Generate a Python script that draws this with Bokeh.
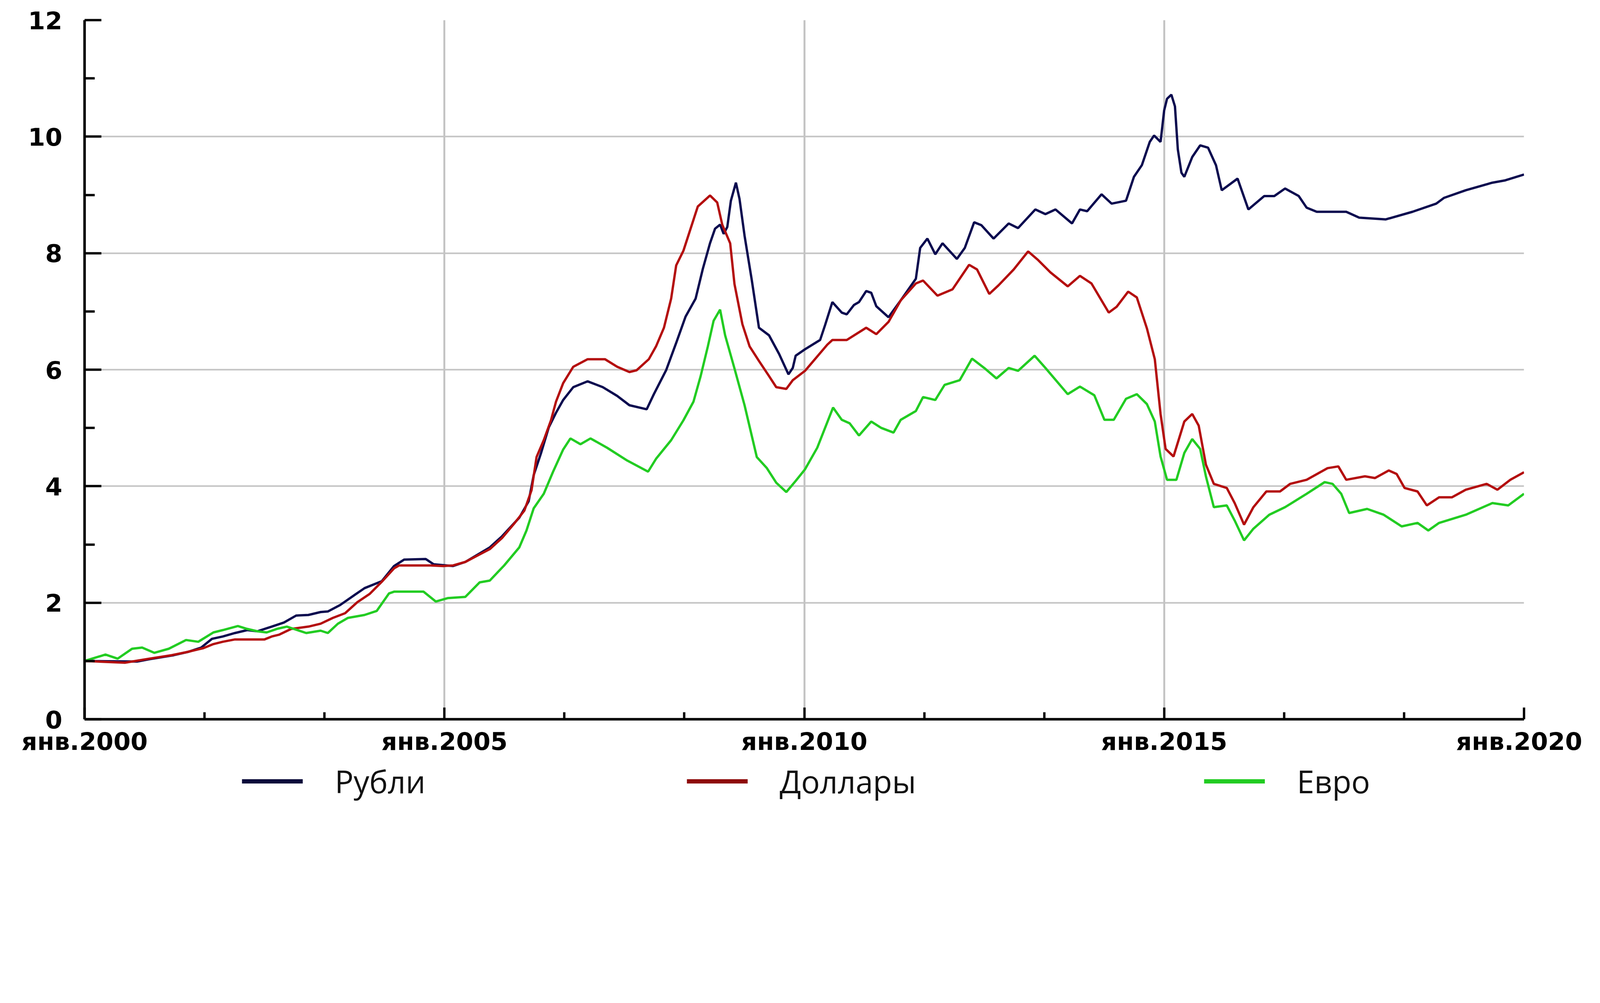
from bokeh.plotting import figure
from bokeh.models import Range1d, FixedTicker, Legend, LegendItem
from bokeh.layouts import column
from bokeh.embed import file_html
from bokeh.resources import INLINE

# ---------------- data (decimal year, index value) ----------------
rub_t = [2000.0, 2000.73, 2000.90, 2001.24, 2001.45, 2001.62, 2001.77, 2001.92, 2002.09, 2002.26,
         2002.40, 2002.60, 2002.77, 2002.94, 2003.11, 2003.28, 2003.38, 2003.55, 2003.76, 2003.89,
         2004.13, 2004.30, 2004.44, 2004.74, 2004.85, 2005.12, 2005.29, 2005.63, 2005.80, 2006.04,
         2006.17, 2006.24, 2006.34, 2006.45, 2006.55, 2006.65, 2006.79, 2006.99, 2007.20, 2007.40,
         2007.57, 2007.81, 2007.91, 2008.08, 2008.22, 2008.35, 2008.49, 2008.59, 2008.69, 2008.76,
         2008.83, 2008.88, 2008.93, 2008.98, 2009.05, 2009.10, 2009.17, 2009.27, 2009.37, 2009.51,
         2009.65, 2009.78, 2009.84, 2009.88, 2010.01, 2010.22, 2010.29, 2010.39, 2010.52, 2010.59,
         2010.69, 2010.76, 2010.86, 2010.93, 2011.00, 2011.17, 2011.34, 2011.55, 2011.61, 2011.71,
         2011.82, 2011.92, 2012.12, 2012.23, 2012.36, 2012.46, 2012.63, 2012.84, 2012.97, 2013.21,
         2013.35, 2013.49, 2013.72, 2013.83, 2013.93, 2014.13, 2014.27, 2014.47, 2014.58, 2014.69,
         2014.80, 2014.86, 2014.95, 2015.00, 2015.04, 2015.10, 2015.15, 2015.19, 2015.24, 2015.28,
         2015.39, 2015.50, 2015.61, 2015.72, 2015.80, 2016.02, 2016.17, 2016.39, 2016.53, 2016.68,
         2016.87, 2016.98, 2017.12, 2017.53, 2017.71, 2018.08, 2018.45, 2018.78, 2018.89, 2019.19,
         2019.56, 2019.74, 2020.0]
rub_v = [1.00, 0.99, 1.03, 1.10, 1.16, 1.23, 1.38, 1.42, 1.48, 1.53,
         1.51, 1.59, 1.66, 1.78, 1.79, 1.84, 1.85, 1.96, 2.14, 2.25,
         2.37, 2.63, 2.74, 2.75, 2.66, 2.63, 2.70, 2.95, 3.14, 3.46,
         3.74, 4.19, 4.56, 5.01, 5.26, 5.48, 5.70, 5.80, 5.70, 5.55,
         5.39, 5.32, 5.58, 5.99, 6.46, 6.91, 7.22, 7.73, 8.17, 8.42,
         8.49, 8.33, 8.45, 8.90, 9.21, 8.93, 8.30, 7.54, 6.72, 6.59,
         6.27, 5.92, 6.03, 6.24, 6.35, 6.51, 6.77, 7.16, 6.98, 6.95,
         7.11, 7.16, 7.35, 7.32, 7.09, 6.90, 7.19, 7.56, 8.09, 8.25,
         7.98, 8.17, 7.90, 8.09, 8.53, 8.48, 8.25, 8.51, 8.43, 8.75,
         8.67, 8.75, 8.51, 8.75, 8.72, 9.01, 8.85, 8.90, 9.31, 9.51,
         9.91, 10.02, 9.91, 10.45, 10.65, 10.72, 10.52, 9.78, 9.38, 9.31,
         9.65, 9.85, 9.81, 9.51, 9.08, 9.28, 8.75, 8.98, 8.98, 9.11,
         8.98, 8.78, 8.71, 8.71, 8.61, 8.58, 8.71, 8.85, 8.95, 9.08,
         9.21, 9.25, 9.35]

usd_t = [2000.0, 2000.56, 2000.90, 2001.21, 2001.41, 2001.65, 2001.79, 2001.92, 2002.09, 2002.50,
         2002.60, 2002.70, 2002.87, 2003.11, 2003.28, 2003.45, 2003.62, 2003.79, 2003.96, 2004.13,
         2004.30, 2004.37, 2004.81, 2004.98, 2005.12, 2005.29, 2005.49, 2005.63, 2005.80, 2005.97,
         2006.11, 2006.21, 2006.28, 2006.38, 2006.48, 2006.55, 2006.65, 2006.79, 2006.99, 2007.23,
         2007.40, 2007.57, 2007.67, 2007.84, 2007.94, 2008.05, 2008.15, 2008.22, 2008.32, 2008.42,
         2008.52, 2008.69, 2008.79, 2008.86, 2008.97, 2009.03, 2009.14, 2009.24, 2009.37, 2009.51,
         2009.61, 2009.75, 2009.84, 2010.01, 2010.32, 2010.39, 2010.59, 2010.86, 2011.00, 2011.17,
         2011.34, 2011.55, 2011.65, 2011.85, 2012.06, 2012.29, 2012.40, 2012.57, 2012.70, 2012.91,
         2013.11, 2013.25, 2013.42, 2013.66, 2013.83, 2013.99, 2014.23, 2014.34, 2014.50, 2014.62,
         2014.76, 2014.87, 2014.95, 2015.02, 2015.13, 2015.28, 2015.39, 2015.48, 2015.58, 2015.69,
         2015.87, 2015.98, 2016.11, 2016.24, 2016.42, 2016.61, 2016.75, 2016.98, 2017.27, 2017.42,
         2017.53, 2017.79, 2017.93, 2018.12, 2018.23, 2018.34, 2018.52, 2018.65, 2018.82, 2019.00,
         2019.19, 2019.48, 2019.63, 2019.81, 2020.0]
usd_v = [1.00, 0.97, 1.04, 1.10, 1.15, 1.22, 1.29, 1.33, 1.37, 1.37,
         1.42, 1.45, 1.55, 1.59, 1.64, 1.74, 1.82, 2.01, 2.15, 2.36,
         2.59, 2.64, 2.64, 2.63, 2.64, 2.70, 2.83, 2.92, 3.11, 3.36,
         3.58, 3.93, 4.50, 4.79, 5.13, 5.45, 5.77, 6.05, 6.18, 6.18,
         6.05, 5.96, 5.99, 6.18, 6.40, 6.72, 7.22, 7.79, 8.04, 8.42,
         8.80, 8.99, 8.87, 8.49, 8.17, 7.47, 6.78, 6.40, 6.15, 5.89,
         5.70, 5.67, 5.82, 5.98, 6.43, 6.51, 6.51, 6.72, 6.61, 6.82,
         7.19, 7.48, 7.53, 7.27, 7.38, 7.80, 7.72, 7.30, 7.45, 7.72,
         8.03, 7.88, 7.67, 7.43, 7.61, 7.48, 6.98, 7.08, 7.34, 7.24,
         6.71, 6.18, 5.24, 4.64, 4.51, 5.11, 5.24, 5.04, 4.37, 4.04,
         3.97, 3.71, 3.34, 3.64, 3.91, 3.91, 4.04, 4.11, 4.31, 4.34,
         4.11, 4.17, 4.14, 4.27, 4.21, 3.97, 3.91, 3.67, 3.81, 3.81,
         3.94, 4.04, 3.94, 4.11, 4.24]

eur_t = [2000.0, 2000.29, 2000.46, 2000.66, 2000.80, 2000.97, 2001.17, 2001.41, 2001.58, 2001.79,
         2001.92, 2002.13, 2002.26, 2002.40, 2002.53, 2002.67, 2002.81, 2003.08, 2003.28, 2003.38,
         2003.52, 2003.66, 2003.89, 2004.06, 2004.23, 2004.30, 2004.71, 2004.88, 2005.05, 2005.29,
         2005.49, 2005.63, 2005.83, 2006.04, 2006.14, 2006.24, 2006.38, 2006.51, 2006.65, 2006.75,
         2006.89, 2007.03, 2007.26, 2007.54, 2007.83, 2007.94, 2008.15, 2008.32, 2008.46, 2008.56,
         2008.66, 2008.74, 2008.83, 2008.90, 2009.03, 2009.17, 2009.34, 2009.48, 2009.61, 2009.75,
         2009.88, 2010.01, 2010.18, 2010.40, 2010.52, 2010.63, 2010.76, 2010.93, 2011.07, 2011.24,
         2011.34, 2011.55, 2011.65, 2011.82, 2011.95, 2012.16, 2012.33, 2012.50, 2012.67, 2012.84,
         2012.97, 2013.20, 2013.35, 2013.66, 2013.83, 2014.03, 2014.17, 2014.30, 2014.47, 2014.62,
         2014.76, 2014.87, 2014.95, 2015.04, 2015.17, 2015.28, 2015.39, 2015.50, 2015.58, 2015.69,
         2015.87, 2015.98, 2016.11, 2016.24, 2016.46, 2016.68, 2016.98, 2017.23, 2017.34, 2017.46,
         2017.57, 2017.82, 2018.05, 2018.30, 2018.52, 2018.67, 2018.82, 2019.19, 2019.56, 2019.78,
         2020.0]
eur_v = [1.00, 1.11, 1.04, 1.21, 1.23, 1.14, 1.21, 1.36, 1.33, 1.49,
         1.53, 1.60, 1.55, 1.51, 1.49, 1.55, 1.59, 1.48, 1.52, 1.48,
         1.64, 1.74, 1.79, 1.86, 2.16, 2.19, 2.19, 2.02, 2.08, 2.10,
         2.35, 2.38, 2.64, 2.95, 3.24, 3.62, 3.87, 4.25, 4.63, 4.82,
         4.72, 4.82, 4.66, 4.44, 4.25, 4.47, 4.79, 5.13, 5.45, 5.89,
         6.40, 6.84, 7.03, 6.59, 6.02, 5.39, 4.50, 4.31, 4.06, 3.90,
         4.09, 4.29, 4.66, 5.35, 5.14, 5.08, 4.87, 5.11, 5.00, 4.92,
         5.14, 5.29, 5.53, 5.48, 5.74, 5.82, 6.19, 6.03, 5.85, 6.03,
         5.98, 6.24, 6.03, 5.58, 5.71, 5.56, 5.14, 5.14, 5.50, 5.58,
         5.41, 5.11, 4.51, 4.11, 4.11, 4.57, 4.81, 4.64, 4.17, 3.64,
         3.67, 3.41, 3.07, 3.27, 3.51, 3.64, 3.87, 4.07, 4.04, 3.87,
         3.54, 3.61, 3.51, 3.31, 3.37, 3.24, 3.37, 3.51, 3.71, 3.67,
         3.87]

series_names = ["Рубли", "Доллары", "Евро"]
series_colors = ["#0b0b4f", "#b40f0f", "#22cc22"]
legend_colors = ["#0b0b3a", "#8e0a0a", "#22cc22"]

x_major = [2000, 2005, 2010, 2015, 2020]
x_labels = ["янв.2000", "янв.2005", "янв.2010", "янв.2015", "янв.2020"]
x_minor = [2001.667, 2003.333, 2006.667, 2008.333, 2011.667, 2013.333, 2016.667, 2018.333]
y_major = [0, 2, 4, 6, 8, 10, 12]
y_minor = [1, 3, 5, 7, 9, 11]

# The page is photographed with a device scale of about 1.22, so every size
# measured on the 4991x2568 picture is divided by it to get CSS pixels.
DPR = 1.22


def px(v):
    return int(round(v / DPR))


left = px(264)
top = px(62)
fw = px(4760 - 264)
fh = px(2246 - 62)
canvas_w = 4050
bottom = 96

# ---------------- main chart ----------------
p = figure(frame_width=fw, frame_height=fh,
           min_border_left=left, min_border_right=canvas_w - left - fw,
           min_border_top=top, min_border_bottom=bottom,
           x_range=Range1d(2000, 2020), y_range=Range1d(0, 12),
           output_backend="svg", toolbar_location=None)
p.outline_line_color = None
p.background_fill_color = "white"
p.border_fill_color = "white"

p.xaxis.ticker = FixedTicker(ticks=x_major, minor_ticks=x_minor)
p.yaxis.ticker = FixedTicker(ticks=y_major, minor_ticks=y_minor)
p.xaxis.major_label_overrides = {t: s for t, s in zip(x_major, x_labels)}

for ax in (p.xaxis[0], p.yaxis[0]):
    ax.axis_line_color = "black"
    ax.axis_line_width = 6.5
    ax.major_tick_line_color = "black"
    ax.major_tick_line_width = 6
    ax.minor_tick_line_color = "black"
    ax.minor_tick_line_width = 6
    ax.major_tick_out = 0
    ax.minor_tick_out = 0
    ax.major_label_text_font = "DejaVu Sans"
    ax.major_label_text_font_style = "bold"
    ax.major_label_text_font_size = "%dpx" % px(77)
    ax.major_label_text_color = "black"

p.xaxis.major_tick_in = px(37)
p.xaxis.minor_tick_in = px(22)
p.xaxis.major_label_standoff = px(24)
p.yaxis.major_tick_in = px(52)
p.yaxis.minor_tick_in = px(32)
p.yaxis.major_label_standoff = px(70)

p.xgrid.grid_line_color = "#c4c4c4"
p.xgrid.grid_line_width = 5
p.ygrid.grid_line_color = "#c4c4c4"
p.ygrid.grid_line_width = 4

all_t = [rub_t, usd_t, eur_t]
all_v = [rub_v, usd_v, eur_v]
for t, v, c in zip(all_t, all_v, series_colors):
    p.line(t, v, line_color=c, line_width=6)

# ---------------- legend strip under the chart ----------------
# Its frame is aligned with the chart frame by the column layout; its ranges keep
# the proxy series out of view so only the legend is drawn.
strip_h = 128
lg = figure(width=canvas_w, height=strip_h, min_border=0,
            x_range=Range1d(0, 1), y_range=Range1d(0, 1),
            x_axis_type=None, y_axis_type=None,
            output_backend="svg", toolbar_location=None)
lg.outline_line_color = None
lg.grid.visible = False

legend_x = [px(756 - 264), px(2145 - 264), px(3760 - 264)]
legend_font = 80
legend_box_h = 110            # approximate height of one legend row
legend_center_from_top = 62
for name, c, lx, t, v in zip(series_names, legend_colors, legend_x, all_t, all_v):
    proxy = lg.line(t, v, line_color=c, line_width=11)
    leg = Legend(items=[LegendItem(label=name, renderers=[proxy])],
                 location=(lx, strip_h - legend_center_from_top - legend_box_h // 2),
                 orientation="horizontal",
                 glyph_width=px(190), glyph_height=60, label_standoff=px(100),
                 padding=0, margin=0, spacing=0,
                 border_line_color=None, background_fill_alpha=0,
                 label_text_font="Open Sans", label_text_font_size="%dpx" % legend_font,
                 label_text_color="#111111")
    lg.add_layout(leg)

page = column(p, lg, spacing=0)
open("out.html", "w").write(file_html(page, INLINE))
